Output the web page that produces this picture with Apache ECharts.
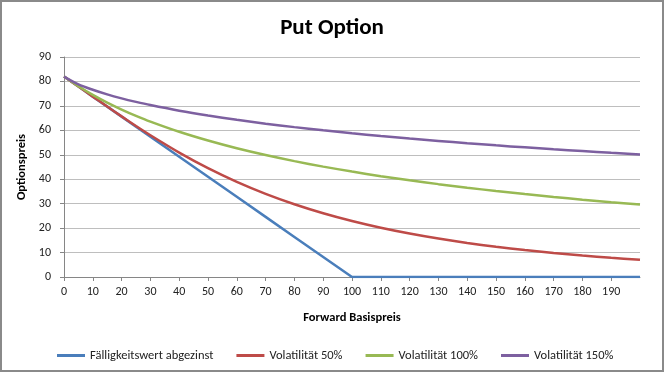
<!DOCTYPE html>
<html>
<head>
<meta charset="utf-8">
<script src="https://cdn.jsdelivr.net/npm/echarts@6/dist/echarts.min.js"></script>
<style>
html,body{margin:0;padding:0;background:#fff;}
#c{width:664px;height:372px;}
</style>
</head>
<body>
<div id="c"></div>
<script>
// Forward Basispreis (x) and option prices
const xValues = [0,5,10,15,20,25,30,40,50,60,70,80,90,100,110,120,130,140,150,160,170,180,190,200];
const faelligkeit = [82,77.9,73.8,69.7,65.6,61.5,57.4,49.2,41,32.8,24.6,16.4,8.2,0,0,0,0,0,0,0,0,0,0,0];
const vol50 = [82,77.9,73.8,69.73,65.71,61.78,57.99,50.89,44.52,38.92,34.03,29.78,26.10,22.93,20.17,17.79,15.73,13.93,12.37,11.01,9.83,8.77,7.86,7.05];
const vol100 = [82,78.04,74.50,71.34,68.51,65.93,63.57,59.41,55.82,52.67,49.89,47.40,45.16,43.13,41.26,39.56,37.99,36.53,35.18,33.92,32.74,31.64,30.60,29.64];
const vol150 = [82,78.81,76.60,74.71,73.08,71.64,70.33,68.04,66.06,64.30,62.73,61.31,60.00,58.79,57.67,56.63,55.66,54.72,53.85,53.03,52.24,51.51,50.78,50.11];
const seriesNames = ['Fälligkeitswert abgezinst','Volatilität 50%','Volatilität 100%','Volatilität 150%'];
const colors = ['#4A7EBB','#BE4B48','#98B954','#7D60A0'];

const font = 'Carlito, Lato, "Open Sans", sans-serif';
const pairs = arr => xValues.map((x,i)=>[x,arr[i]]);
const allData = [faelligkeit, vol50, vol100, vol150];

const chart = echarts.init(document.getElementById('c'), null, {renderer:'canvas'});
chart.setOption({
  animation:false,
  backgroundColor:'#fff',
  textStyle:{fontFamily:font},
  title:{
    text:'Put Option', left:'center', top:12,
    textStyle:{fontFamily:font, fontWeight:'bold', fontSize:23, color:'#000'}
  },
  graphic:[{type:'rect', shape:{x:1,y:1,width:662,height:370}, style:{fill:'none', stroke:'#8a8a8a', lineWidth:2}, silent:true}],
  grid:{left:64, right:24, top:57, bottom:95},
  legend:{
    data:seriesNames, left:52, top:344, itemWidth:28, itemHeight:3, itemGap:23, icon:'rect',
    textStyle:{fontFamily:font, fontSize:12.5, color:'#222'}
  },
  xAxis:{
    type:'value', min:0, max:200, interval:10,
    name:'Forward Basispreis', nameLocation:'middle', nameGap:34,
    nameTextStyle:{fontFamily:font, fontWeight:'bold', fontSize:12.5, color:'#000'},
    axisLine:{show:true, lineStyle:{color:'#868686', width:1}},
    axisTick:{show:true, length:4, lineStyle:{color:'#868686'}},
    axisLabel:{fontFamily:font, fontSize:12, color:'#222', margin:9, showMaxLabel:false},
    splitLine:{show:false}
  },
  yAxis:{
    type:'value', min:0, max:90, interval:10,
    name:'Optionspreis', nameLocation:'middle', nameGap:28, nameRotate:90,
    nameTextStyle:{fontFamily:font, fontWeight:'bold', fontSize:12.5, color:'#000'},
    axisLine:{show:true, lineStyle:{color:'#868686', width:1}},
    axisTick:{show:true, length:4, lineStyle:{color:'#868686'}},
    axisLabel:{fontFamily:font, fontSize:12, color:'#222', margin:13},
    splitLine:{show:true, lineStyle:{color:'#BEBEBE', width:1}}
  },
  series: seriesNames.map((n,i)=>({
    name:n, type:'line', data:pairs(allData[i]), showSymbol:false, smooth: i===0 ? false : 0.3,
    lineStyle:{color:colors[i], width:2.5}, itemStyle:{color:colors[i]}
  }))
});
</script>
</body>
</html>
